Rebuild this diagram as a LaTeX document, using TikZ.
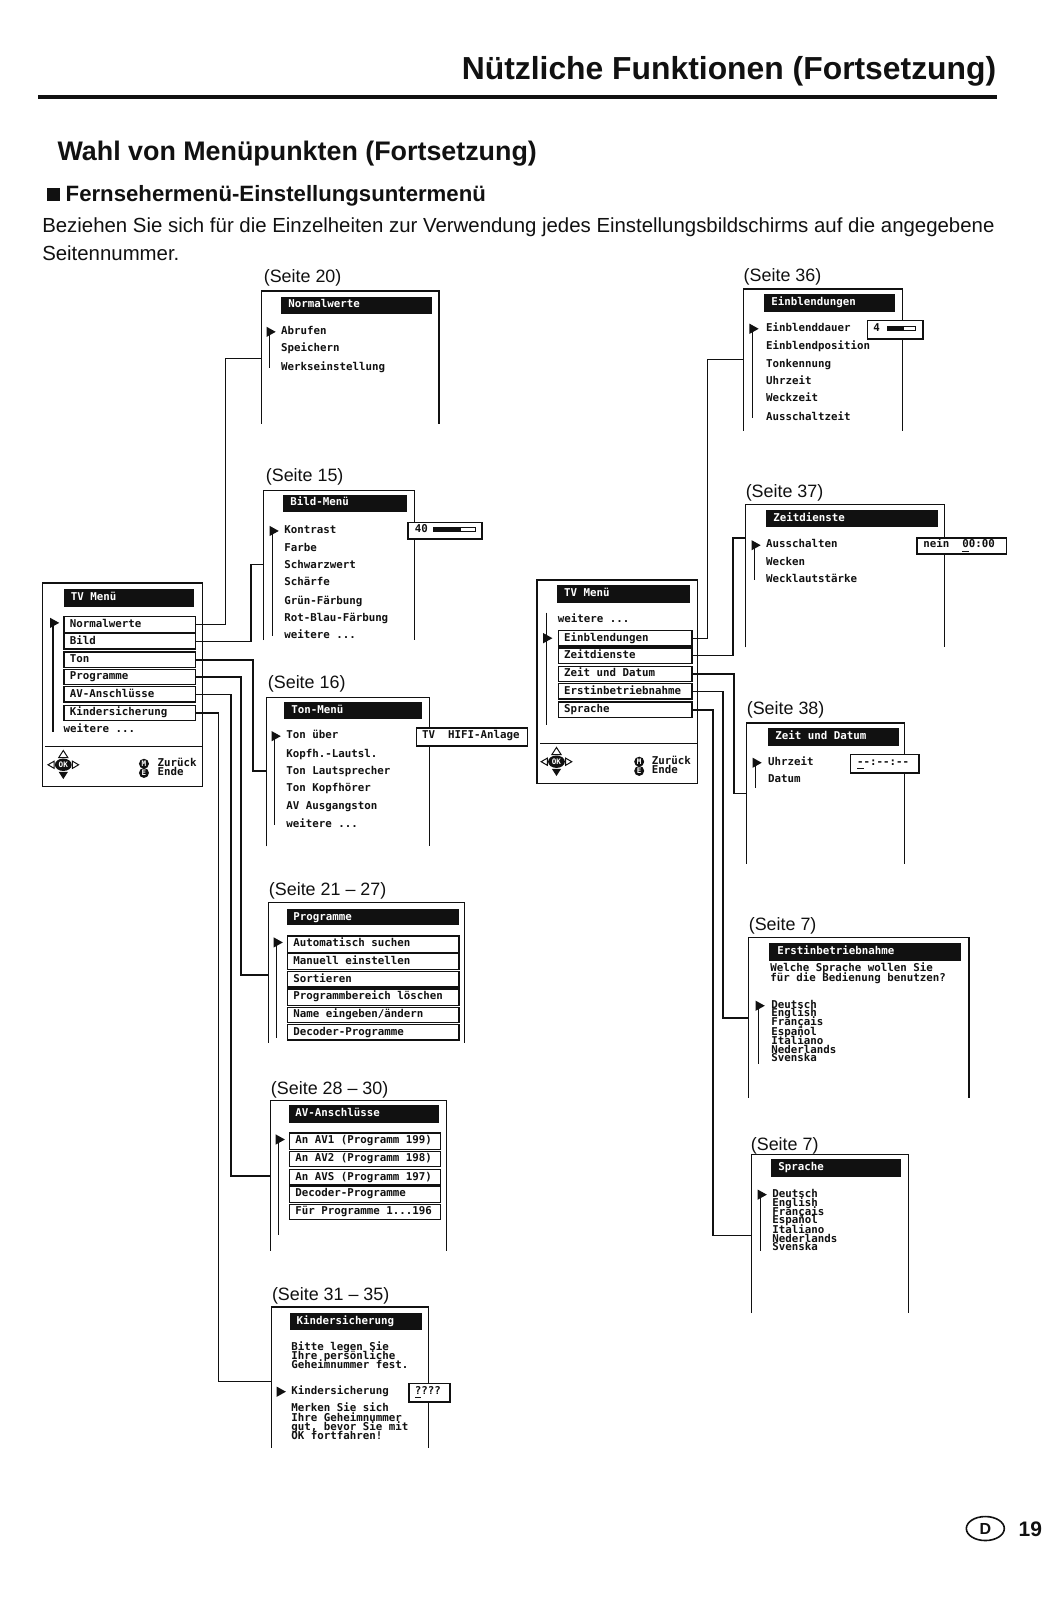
\documentclass[tikz,border=0pt]{standalone}
\usepackage{fontspec}
\usetikzlibrary{shapes.geometric}
\setmainfont{Liberation Sans}
\newfontfamily\pixfont{DejaVu Sans Mono}[BoldFont={DejaVu Sans Mono Bold}]
\def\pu{0.5107pt}
\definecolor{ink}{HTML}{111111}
\tikzset{
  frameline/.style={draw=ink,line width=0.6pt},
  conn/.style={draw=ink,line width=0.8pt},
  tvtxt/.style={inner sep=0pt,anchor=west,text=ink,font=\pixfont\bfseries\fontsize{5.4pt}{6pt}\selectfont,text height=3.6pt,text depth=0.9pt},
  tvtitle/.style={tvtxt,text=white},
  barbox/.style={fill=ink,inner sep=0pt,anchor=north west},
  itembox/.style={draw=ink,line width=0.65pt,fill=white,inner sep=0pt,anchor=north west},
  valbox/.style={draw=ink,line width=0.8pt,fill=white,inner sep=0pt,anchor=north west},
  seite/.style={inner sep=0pt,anchor=west,text=ink,font=\fontsize{8.95pt}{11pt}\selectfont,text height=7pt,text depth=2pt},
  btn/.style={circle,fill=ink,text=white,inner sep=0pt,minimum size=5pt,font=\pixfont\bfseries\fontsize{3.8pt}{4pt}\selectfont},
  okbtn/.style={ellipse,fill=ink,text=white,inner sep=0pt,minimum width=8.4pt,minimum height=6.2pt,font=\pixfont\bfseries\fontsize{3.8pt}{4pt}\selectfont},
}
% open-bottomed menu frame: x1 y1 x2 y2
\newcommand{\tvframe}[4]{\draw[frameline] (#1,#4) -- (#1,#2) -- (#3,#2) -- (#3,#4);}
% name x y w h text textoffset
\newcommand{\tvbar}[7]{\node[barbox,minimum width=#4*\pu,minimum height=#5*\pu] (#1) at (#2,#3) {};
  \node[tvtitle] (#1t) at ([xshift=#7*\pu]#1.west) {#6};}
% name x y w h text
\newcommand{\tvitem}[6]{\node[itembox,minimum width=#4*\pu,minimum height=#5*\pu] (#1) at (#2,#3) {};
  \node[tvtxt] (#1t) at ([xshift=6*\pu]#1.west) {#6};}
\newcommand{\tvtext}[4]{\node[tvtxt] (#1) at (#2,#3) {#4};}
% pointer x ytop ybottom
\newcommand{\tvptr}[3]{\fill[ink] (#1-4,#2-5) -- (#1+5,#2) -- (#1-4,#2+5) -- cycle; \draw[ink,line width=0.6pt] (#1-1,#2) -- (#1-1,#3);}
\newcommand{\navcross}[2]{%
  \draw[ink,line width=0.5pt] (#1-15,#2) -- (#1-9,#2-3.5) -- (#1-9,#2+3.5) -- cycle;
  \draw[ink,line width=0.5pt] (#1+15,#2) -- (#1+9,#2-3.5) -- (#1+9,#2+3.5) -- cycle;
  \draw[ink,line width=0.5pt] (#1,#2-14) -- (#1-4.5,#2-7) -- (#1+4.5,#2-7) -- cycle;
  \fill[ink] (#1,#2+14) -- (#1-4.5,#2+7) -- (#1+4.5,#2+7) -- cycle;}
\begin{document}
\begin{tikzpicture}[x=0.5107pt,y=-0.5107pt]
\useasboundingbox (0,0) rectangle (1041,1567);
\fill[white] (0,0) rectangle (1041,1567);

% --- headings
\node[inner sep=0pt,anchor=east,font=\bfseries\fontsize{15.93pt}{18pt}\selectfont,text=ink] (head) at (976,70) {Nützliche Funktionen (Fortsetzung)};
\fill[ink] (37,93) rectangle (976,97);
\node[inner sep=0pt,anchor=west,font=\bfseries\fontsize{13.43pt}{16pt}\selectfont,text=ink] (sub) at (56,150) {Wahl von Menüpunkten (Fortsetzung)};
\fill[ink] (46,184) rectangle (59,197);
\node[inner sep=0pt,anchor=west,font=\bfseries\fontsize{11.09pt}{13pt}\selectfont,text=ink] (subsub) at (64,192) {Fernsehermenü-Einstellungsuntermenü};
\node[inner sep=0pt,anchor=north west,align=left,font=\fontsize{10.2pt}{13.8pt}\selectfont,text=ink] (para) at (41,213) {Beziehen Sie sich für die Einzelheiten zur Verwendung jedes Einstellungsbildschirms auf die angegebene\\Seitennummer.};

% --- page labels
\node[seite] (s20) at (258,272) {(Seite 20)};
\node[seite] (s15) at (260,467) {(Seite 15)};
\node[seite] (s16) at (262,669) {(Seite 16)};
\node[seite] (s21) at (263,872) {(Seite 21 -- 27)};
\node[seite] (s28) at (265,1067) {(Seite 28 -- 30)};
\node[seite] (s31) at (266,1269) {(Seite 31 -- 35)};
\node[seite] (s36) at (728,271) {(Seite 36)};
\node[seite] (s37) at (730,482) {(Seite 37)};
\node[seite] (s38) at (731,695) {(Seite 38)};
\node[seite] (s7a) at (733,906) {(Seite 7)};
\node[seite] (s7b) at (735,1122) {(Seite 7)};

% --- left TV menu
\draw[frameline] (42,571) rectangle (198,770);
\tvbar{lT}{62}{576}{128}{18}{TV Menü}{7}
\tvptr{53}{610}{717}
\tvitem{lA}{62}{603}{129}{16}{Normalwerte}
\tvitem{lB}{62}{620}{129}{15}{Bild}
\tvitem{lC}{62}{638}{129}{15}{Ton}
\tvitem{lD}{62}{655}{129}{15}{Programme}
\tvitem{lE}{62}{672}{129}{15}{AV-Anschlüsse}
\tvitem{lF}{62}{690}{129}{15}{Kindersicherung}
\tvtext{lW}{62}{715}{weitere ...}
\draw[ink,line width=0.6pt] (44,731) -- (198,731);
\navcross{62}{749}
\node[okbtn] (lOK) at (62,749) {OK};
\node[btn] (lM) at (141,748) {M};
\node[btn] (lN) at (141,757) {E};
\tvtext{lZ}{154}{748}{Zurück}
\tvtext{lE2}{154}{757}{Ende}

% --- Normalwerte
\tvframe{256}{285}{430}{415}
\tvbar{aT}{275}{290}{148}{17}{Normalwerte}{7}
\tvptr{265}{325}{360}
\tvtext{a1}{275}{325}{Abrufen}
\tvtext{a2}{275}{342}{Speichern}
\tvtext{a3}{275}{360}{Werkseinstellung}

% --- Bild-Menü
\tvframe{258}{480}{406}{627}
\tvbar{bT}{277}{484}{121}{17}{Bild-Menü}{7}
\tvptr{268}{520}{623}
\tvtext{b1}{278}{520}{Kontrast}
\tvtext{b2}{278}{537}{Farbe}
\tvtext{b3}{278}{554}{Schwarzwert}
\tvtext{b4}{278}{571}{Schärfe}
\tvtext{b5}{278}{589}{Grün-Färbung}
\tvtext{b6}{278}{606}{Rot-Blau-Färbung}
\tvtext{b7}{278}{623}{weitere ...}
\node[valbox,minimum width=72*\pu,minimum height=16*\pu] (bV) at (399,511) {};
\node[tvtxt] (bVt) at (406,519) {40};
\filldraw[fill=white,draw=ink,line width=0.5pt] (425,517) rectangle (466,521);
\fill[ink] (425,517) rectangle (451,521);

% --- Ton-Menü
\tvframe{261}{683}{421}{829}
\tvbar{cT}{278}{687}{135}{17}{Ton-Menü}{7}
\tvptr{270}{721}{808}
\tvtext{c1}{280}{721}{Ton über}
\tvtext{c2}{280}{739}{Kopfh.-Lautsl.}
\tvtext{c3}{280}{756}{Ton Lautsprecher}
\tvtext{c4}{280}{773}{Ton Kopfhörer}
\tvtext{c5}{280}{790}{AV Ausgangston}
\tvtext{c6}{280}{808}{weitere ...}
\node[valbox,minimum width=109*\pu,minimum height=18*\pu] (cV) at (407,712) {};
\node[tvtxt] (cVt) at (413,721) {TV\ \ HIFI-Anlage};

% --- Programme
\tvframe{263}{884}{455}{1021}
\tvbar{dT}{281}{890}{168}{16}{Programme}{6}
\tvptr{272}{923}{1017}
\tvitem{d1}{281}{916}{168}{16}{Automatisch suchen}
\tvitem{d2}{281}{933}{168}{16}{Manuell einstellen}
\tvitem{d3}{281}{951}{168}{15}{Sortieren}
\tvitem{d4}{281}{968}{168}{16}{Programmbereich löschen}
\tvitem{d5}{281}{986}{168}{15}{Name eingeben/ändern}
\tvitem{d6}{281}{1003}{168}{15}{Decoder-Programme}

% --- AV-Anschlüsse
\tvframe{265}{1078}{437}{1225}
\tvbar{eT}{283}{1082}{147}{17}{AV-Anschlüsse}{6}
\tvptr{274}{1116}{1210}
\tvitem{e1}{283}{1109}{148}{16}{An AV1 (Programm 199)}
\tvitem{e2}{283}{1127}{148}{15}{An AV2 (Programm 198)}
\tvitem{e3}{283}{1145}{148}{15}{An AVS (Programm 197)}
\tvitem{e4}{283}{1161}{148}{16}{Decoder-Programme}
\tvitem{e5}{283}{1179}{148}{15}{Für Programme 1...196}

% --- Kindersicherung
\tvframe{266}{1280}{420}{1418}
\tvbar{fT}{284}{1286}{129}{16}{Kindersicherung}{6}
\tvtext{f1}{285}{1320}{Bitte legen Sie}
\tvtext{f2}{285}{1329}{Ihre persönliche}
\tvtext{f3}{285}{1338}{Geheimnummer fest.}
\fill[ink] (271,1358) -- (280,1363) -- (271,1368) -- cycle;
\tvtext{f4}{285}{1363}{Kindersicherung}
\node[valbox,minimum width=40*\pu,minimum height=18*\pu] (fV) at (400,1354) {};
\node[tvtxt] (fVt) at (406,1363) {\underline{?}???};
\tvtext{f5}{285}{1380}{Merken Sie sich}
\tvtext{f6}{285}{1390}{Ihre Geheimnummer}
\tvtext{f7}{285}{1398}{gut, bevor Sie mit}
\tvtext{f8}{285}{1407}{OK fortfahren!}

% --- right TV menu
\draw[frameline] (526,568) rectangle (683,767);
\tvbar{rT}{545}{573}{130}{17}{TV Menü}{7}
\tvptr{536}{625}{710}
\draw[ink,line width=0.6pt] (535,600) -- (535,625);
\tvtext{rW}{546}{607}{weitere ...}
\tvitem{rA}{546}{617}{131}{15}{Einblendungen}
\tvitem{rB}{546}{634}{131}{15}{Zeitdienste}
\tvitem{rC}{546}{652}{131}{15}{Zeit und Datum}
\tvitem{rD}{546}{669}{131}{15}{Erstinbetriebnahme}
\tvitem{rE}{546}{687}{131}{15}{Sprache}
\draw[ink,line width=0.6pt] (529,728) -- (683,728);
\navcross{545}{746}
\node[okbtn] (rOK) at (545,746) {OK};
\node[btn] (rM) at (626,746) {M};
\node[btn] (rN) at (626,755) {E};
\tvtext{rZ}{638}{746}{Zurück}
\tvtext{rE2}{638}{755}{Ende}

% --- Einblendungen
\tvframe{728}{283}{884}{422}
\tvbar{gT}{748}{288}{128}{17}{Einblendungen}{7}
\tvptr{738}{322}{409}
\tvtext{g1}{750}{322}{Einblenddauer}
\tvtext{g2}{750}{340}{Einblendposition}
\tvtext{g3}{750}{357}{Tonkennung}
\tvtext{g4}{750}{374}{Uhrzeit}
\tvtext{g5}{750}{391}{Weckzeit}
\tvtext{g6}{750}{409}{Ausschaltzeit}
\node[valbox,minimum width=54*\pu,minimum height=18*\pu] (gV) at (849,313) {};
\node[tvtxt] (gVt) at (855,322) {4};
\filldraw[fill=white,draw=ink,line width=0.5pt] (869,320) rectangle (897,324);
\fill[ink] (869,320) rectangle (885,324);

% --- Zeitdienste
\tvframe{730}{494}{925}{634}
\tvbar{hT}{750}{499}{168}{17}{Zeitdienste}{7}
\tvptr{740}{534}{568}
\tvtext{h1}{750}{534}{Ausschalten}
\tvtext{h2}{750}{551}{Wecken}
\tvtext{h3}{750}{568}{Wecklautstärke}
\node[valbox,minimum width=88*\pu,minimum height=16*\pu] (hV) at (897,526) {};
\node[tvtxt] (hVt) at (904,534) {nein\ \ \underline{0}0:00};

% --- Zeit und Datum
\tvframe{731}{708}{886}{846}
\tvbar{iT}{752}{713}{128}{17}{Zeit und Datum}{7}
\tvptr{741}{747}{772}
\tvtext{i1}{752}{747}{Uhrzeit}
\tvtext{i2}{752}{764}{Datum}
\node[valbox,minimum width=67*\pu,minimum height=18*\pu] (iV) at (832,738) {};
\node[tvtxt] (iVt) at (839,747) {\underline{-}{-}:{-}{-}:{-}{-}};

% --- Erstinbetriebnahme
\tvframe{733}{918}{949}{1075}
\tvbar{jT}{753}{923}{188}{18}{Erstinbetriebnahme}{8}
\tvtext{j1}{754}{949}{Welche Sprache wollen Sie}
\tvtext{j2}{754}{959}{für die Bedienung benutzen?}
\tvptr{744}{985}{1042}
\tvtext{j3}{755}{985}{Deutsch}
\tvtext{j4}{755}{993}{English}
\tvtext{j5}{755}{1002}{Français}
\tvtext{j6}{755}{1011}{Español}
\tvtext{j7}{755}{1020}{Italiano}
\tvtext{j8}{755}{1029}{Nederlands}
\tvtext{j9}{755}{1037}{Svenska}

% --- Sprache
\tvframe{736}{1131}{890}{1286}
\tvbar{kT}{755}{1135}{127}{17}{Sprache}{7}
\tvptr{746}{1170}{1225}
\tvtext{k3}{756}{1170}{Deutsch}
\tvtext{k4}{756}{1179}{English}
\tvtext{k5}{756}{1188}{Français}
\tvtext{k6}{756}{1196}{Español}
\tvtext{k7}{756}{1205}{Italiano}
\tvtext{k8}{756}{1214}{Nederlands}
\tvtext{k9}{756}{1222}{Svenska}

% --- connector junctions
\coordinate (vA) at (221,351);  \coordinate (jA) at (256,351);
\coordinate (vB) at (246,553);  \coordinate (jB) at (258,553);
\coordinate (vC) at (248,755);  \coordinate (jC) at (261,755);
\coordinate (vD) at (236,955);  \coordinate (jD) at (263,955);
\coordinate (vE) at (226,1152); \coordinate (jE) at (265,1152);
\coordinate (vF) at (214,1353); \coordinate (jF) at (266,1353);
\coordinate (wA) at (693,352);  \coordinate (kA) at (728,352);
\coordinate (wB) at (718,527);  \coordinate (kB) at (730,527);
\coordinate (wC) at (719,777);  \coordinate (kC) at (731,777);
\coordinate (wD) at (708,997);  \coordinate (kD) at (733,997);
\coordinate (wE) at (698,1210); \coordinate (kE) at (736,1210);

% --- connectors
\draw[conn] (lA.east) -| (vA) -- (jA);
\draw[conn] (lB.east) -| (vB) -- (jB);
\draw[conn] (lC.east) -| (vC) -- (jC);
\draw[conn] (lD.east) -| (vD) -- (jD);
\draw[conn] (lE.east) -| (vE) -- (jE);
\draw[conn] (lF.east) -| (vF) -- (jF);
\draw[conn] (rA.east) -| (wA) -- (kA);
\draw[conn] (rB.east) -| (wB) -- (kB);
\draw[conn] (rC.east) -| (wC) -- (kC);
\draw[conn] (rD.east) -| (wD) -- (kD);
\draw[conn] (rE.east) -| (wE) -- (kE);

% --- page mark
\node[ellipse,draw=ink,line width=0.8pt,minimum width=19pt,minimum height=12pt,inner sep=0pt,font=\bfseries\fontsize{8pt}{9pt}\selectfont,text=ink] (mark) at (965,1497) {D};
\node[inner sep=0pt,font=\bfseries\fontsize{10.5pt}{12pt}\selectfont,text=ink] (pnum) at (1009,1498) {19};
\end{tikzpicture}
\end{document}
